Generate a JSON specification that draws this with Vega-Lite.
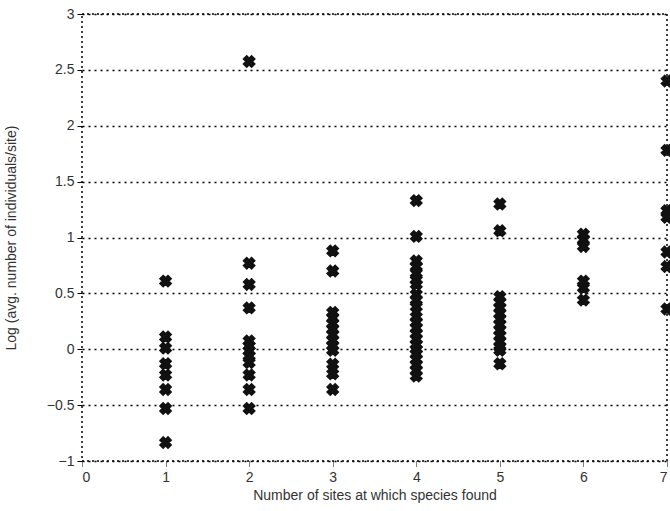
{
  "$schema": "https://vega.github.io/schema/vega-lite/v6.json",
  "width": 585,
  "height": 447,
  "autosize": {"type": "none"},
  "padding": {"left": 82, "top": 14, "right": 3, "bottom": 50},
  "background": "white",
  "config": {
    "view": {"stroke": "black", "strokeDash": [2, 3], "strokeWidth": 1.5},
    "font": "Liberation Sans"
  },
  "data": {
    "values": [
      {"sites": 1, "logabund": 0.61}, {"sites": 1, "logabund": 0.11}, {"sites": 1, "logabund": 0.01},
      {"sites": 1, "logabund": -0.13}, {"sites": 1, "logabund": -0.23}, {"sites": 1, "logabund": -0.36},
      {"sites": 1, "logabund": -0.53}, {"sites": 1, "logabund": -0.835},
      {"sites": 2, "logabund": 2.575}, {"sites": 2, "logabund": 0.77}, {"sites": 2, "logabund": 0.58},
      {"sites": 2, "logabund": 0.37}, {"sites": 2, "logabund": 0.074}, {"sites": 2, "logabund": 0.03},
      {"sites": 2, "logabund": -0.015}, {"sites": 2, "logabund": -0.06}, {"sites": 2, "logabund": -0.12},
      {"sites": 2, "logabund": -0.23}, {"sites": 2, "logabund": -0.36}, {"sites": 2, "logabund": -0.53},
      {"sites": 3, "logabund": 0.88}, {"sites": 3, "logabund": 0.70}, {"sites": 3, "logabund": 0.33},
      {"sites": 3, "logabund": 0.28}, {"sites": 3, "logabund": 0.23}, {"sites": 3, "logabund": 0.18},
      {"sites": 3, "logabund": 0.13}, {"sites": 3, "logabund": 0.08}, {"sites": 3, "logabund": 0.03},
      {"sites": 3, "logabund": -0.01}, {"sites": 3, "logabund": -0.134}, {"sites": 3, "logabund": -0.22},
      {"sites": 3, "logabund": -0.36},
      {"sites": 4, "logabund": 1.33}, {"sites": 4, "logabund": 1.01}, {"sites": 4, "logabund": 0.79},
      {"sites": 4, "logabund": 0.74}, {"sites": 4, "logabund": 0.68}, {"sites": 4, "logabund": 0.62},
      {"sites": 4, "logabund": 0.58}, {"sites": 4, "logabund": 0.49}, {"sites": 4, "logabund": 0.44},
      {"sites": 4, "logabund": 0.38}, {"sites": 4, "logabund": 0.29}, {"sites": 4, "logabund": 0.24},
      {"sites": 4, "logabund": 0.19}, {"sites": 4, "logabund": 0.14}, {"sites": 4, "logabund": 0.09},
      {"sites": 4, "logabund": 0.04}, {"sites": 4, "logabund": 0.0}, {"sites": 4, "logabund": -0.04},
      {"sites": 4, "logabund": -0.09}, {"sites": 4, "logabund": -0.14}, {"sites": 4, "logabund": -0.19},
      {"sites": 4, "logabund": -0.24},
      {"sites": 5, "logabund": 1.30}, {"sites": 5, "logabund": 1.06}, {"sites": 5, "logabund": 0.47},
      {"sites": 5, "logabund": 0.42}, {"sites": 5, "logabund": 0.37}, {"sites": 5, "logabund": 0.32},
      {"sites": 5, "logabund": 0.27}, {"sites": 5, "logabund": 0.22}, {"sites": 5, "logabund": 0.17},
      {"sites": 5, "logabund": 0.12}, {"sites": 5, "logabund": 0.07}, {"sites": 5, "logabund": 0.02},
      {"sites": 5, "logabund": -0.01}, {"sites": 5, "logabund": -0.13},
      {"sites": 6, "logabund": 1.03}, {"sites": 6, "logabund": 0.98}, {"sites": 6, "logabund": 0.92},
      {"sites": 6, "logabund": 0.61}, {"sites": 6, "logabund": 0.55}, {"sites": 6, "logabund": 0.44},
      {"sites": 7, "logabund": 2.40}, {"sites": 7, "logabund": 1.78}, {"sites": 7, "logabund": 1.24},
      {"sites": 7, "logabund": 1.18}, {"sites": 7, "logabund": 0.87}, {"sites": 7, "logabund": 0.74},
      {"sites": 7, "logabund": 0.36}
    ]
  },
  "mark": {"type": "point", "shape": "cross", "angle": 45, "filled": true, "color": "#111111", "stroke": "#111111", "strokeWidth": 1.5, "size": 130, "opacity": 1, "clip": false},
  "encoding": {
    "x": {
      "field": "sites", "type": "quantitative",
      "scale": {"domain": [0, 7], "nice": false, "zero": false},
      "axis": {
        "title": "Number of sites at which species found",
        "values": [0, 1, 2, 3, 4, 5, 6, 7],
        "format": "d",
        "grid": false,
        "domain": false,
        "ticks": true, "tickSize": 5, "tickColor": "black", "tickDash": [1, 1],
        "labelFont": "Liberation Sans", "labelFontSize": 14, "labelColor": "#333333", "labelPadding": 4,
        "titleFont": "Liberation Sans", "titleFontSize": 14, "titleFontWeight": "normal", "titleColor": "#333333", "titlePadding": 4
      }
    },
    "y": {
      "field": "logabund", "type": "quantitative",
      "scale": {"domain": [-1, 3], "nice": false, "zero": false},
      "axis": {
        "title": "Log (avg. number of individuals/site)",
        "values": [-1, -0.5, 0, 0.5, 1, 1.5, 2, 2.5, 3],
        "format": "~g",
        "grid": true, "gridColor": "black", "gridDash": [2, 4], "gridWidth": 1.5,
        "domain": false,
        "ticks": true, "tickSize": 5, "tickColor": "black",
        "labelFont": "Liberation Sans", "labelFontSize": 14, "labelColor": "#333333", "labelPadding": 3,
        "titleFont": "Liberation Sans", "titleFontSize": 14, "titleFontWeight": "normal", "titleColor": "#333333", "titlePadding": 28
      }
    }
  }
}
